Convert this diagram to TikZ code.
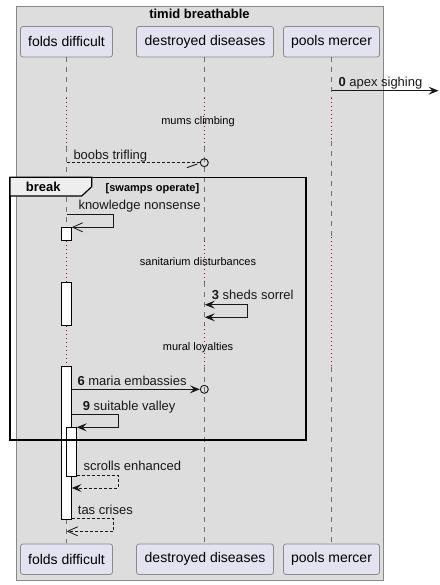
\documentclass[tikz,border=0pt]{standalone}
\usepackage{fontspec}
\setmainfont{Liberation Sans}
\usetikzlibrary{arrows.meta,calc}
\definecolor{grpfill}{HTML}{DDDDDD}
\definecolor{grpline}{HTML}{888888}
\definecolor{partfill}{HTML}{E2E2F0}
\definecolor{partline}{HTML}{8A8A8A}
\definecolor{dotred}{HTML}{A80036}
\definecolor{tabfill}{HTML}{EEEEEE}
\definecolor{lifegray}{HTML}{707070}
\definecolor{msgcol}{HTML}{181818}
\tikzset{
  part/.style={draw=partline, fill=partfill, rounded corners=2.5pt, line width=0.8pt,
    minimum height=30.5pt, inner sep=0pt, font=\fontsize{14}{16}\selectfont},
  life/.style={lifegray, line width=0.8pt, dash pattern=on 5pt off 5pt},
  delayline/.style={dotred, line width=0.9pt, dash pattern=on 1pt off 3pt},
  actbox/.style={draw=black, fill=white, line width=0.9pt},
  msg/.style={msgcol, line width=0.9pt},
  dmsg/.style={msgcol, line width=0.9pt, dash pattern=on 3pt off 2pt},
  fillhead/.style={-{Stealth[length=10pt,width=8pt,inset=4pt]}},
  openhead/.style={-{Straight Barb[length=10pt,width=9pt,line width=0.8pt]}},
  lbl/.style={anchor=base west, inner sep=0pt, font=\fontsize{13}{15}\selectfont, text=msgcol},
  dlbl/.style={anchor=base, inner sep=0pt, font=\fontsize{11}{13}\selectfont, text=black},
}
\begin{document}
\begin{tikzpicture}[x=1pt,y=-1pt]
\useasboundingbox (0,0) rectangle (439,585);
\fill[white] (0,0) rectangle (439,585);
% group box
\draw[grpline, fill=grpfill, line width=0.9pt] (16.5,6) rectangle (383,580.5);
\node[anchor=base, inner sep=0pt, font=\bfseries\fontsize{13}{15}\selectfont] (title) at (199.5,19) {timid breathable};

% participants
\node[part, minimum width=92pt] (pa) at (66.5,41.8) {folds difficult};
\node[part, minimum width=137pt] (pb) at (205,41.8) {destroyed diseases};
\node[part, minimum width=96pt] (pc) at (331.5,41.8) {pools mercer};
\node[part, minimum width=92pt] (qa) at (66.5,559.2) {folds difficult};
\node[part, minimum width=137pt] (qb) at (205,559.2) {destroyed diseases};
\node[part, minimum width=96pt] (qc) at (331.5,559.2) {pools mercer};

% lifelines: folds (x=66.7)
\draw[life] (66.7,57) -- (66.7,98);
\draw[delayline] (66.7,98) -- (66.7,147);
\draw[life] (66.7,147) -- (66.7,227.3);
\draw[delayline] (66.7,241) -- (66.7,282);
\draw[delayline] (66.7,326) -- (66.7,366.7);
\draw[life] (66.7,519.3) -- (66.7,543.3);
% destroyed (x=204.3)
\draw[life] (204.3,57) -- (204.3,98);
\draw[delayline] (204.3,98) -- (204.3,147);
\draw[life] (204.3,147) -- (204.3,241);
\draw[delayline] (204.3,241) -- (204.3,282);
\draw[life] (204.3,282) -- (204.3,325);
\draw[delayline] (204.3,325) -- (204.3,367);
\draw[life] (204.3,367) -- (204.3,543.3);
% pools (x=331.7)
\draw[life] (331.7,57) -- (331.7,98);
\draw[delayline] (331.7,98) -- (331.7,141);
\draw[life] (331.7,141) -- (331.7,237);
\draw[delayline] (331.7,237) -- (331.7,367);
\draw[life] (331.7,367) -- (331.7,543.3);

% activation boxes
\draw[actbox] (61.7,227.3) rectangle (71.7,240.7);
\draw[actbox] (61.7,282.3) rectangle (71.7,325.3);
\draw[actbox] (61.7,366.7) rectangle (71.7,519.3);
\draw[actbox] (66.7,427.3) rectangle (76.7,476.3);

% message 0
\coordinate (m0s) at (331.7,90.7);
\coordinate (m0e) at (438.5,90.7);
\draw[msg, fillhead] (m0s) -- (m0e);
\node[lbl] (l0) at (338.3,86.5) {\textbf{0} apex sighing};

% delay 1
\node[dlbl] (d1) at (198,125) {mums climbing};

% boobs trifling
\coordinate (m1s) at (66.7,162.7);
\node[circle, draw=msgcol, line width=0.9pt, minimum size=8pt, inner sep=0pt] (c1) at (204.3,162.7) {};
\draw[dmsg] (m1s) -- (c1.west);
\draw[msg] ($(c1.west)+(-13,5)$) -- ($(c1.west)+(-2.5,1.2)$);
\node[lbl] (l1) at (73.3,159.3) {boobs trifling};

% break frame
\draw[black, line width=1.5pt] (10,177.3) rectangle (306,440);
\draw[black, fill=tabfill, line width=1.2pt] (10,177.3) -- (91.7,177.3) -- (91.7,186.7) -- (81.7,196) -- (10,196) -- cycle;
\node[anchor=base, inner sep=0pt, font=\bfseries\fontsize{13}{15}\selectfont] (brk) at (43.3,191.5) {break};
\node[anchor=base west, inner sep=0pt, font=\bfseries\fontsize{11}{13}\selectfont] (grd) at (105.5,191) {[swamps operate]};

% knowledge nonsense
\coordinate (m2s) at (66.7,214.3);
\coordinate (m2e) at (71.7,227.3);
\draw[msg, openhead] (m2s) -- (113.7,214.3) -- (113.7,227.3) -- (m2e);
\node[lbl] (l2) at (78.3,209) {knowledge nonsense};

% delay 2
\node[dlbl] (d2) at (198,265.5) {sanitarium disturbances};

% 3 sheds sorrel
\coordinate (m3s) at (204.8,304.7);
\coordinate (m3e) at (204.8,317.3);
\draw[msg, {Stealth[length=10pt,width=8pt,inset=4pt]}-{Stealth[length=10pt,width=8pt,inset=4pt]}] (m3s) -- (247.7,304.7) -- (247.7,317.3) -- (m3e);
\node[lbl] (l3) at (211.7,299.5) {\textbf{3} sheds sorrel};

% delay 3
\node[dlbl] (d3) at (198,350.5) {mural loyalties};

% 6 maria embassies
\coordinate (m6s) at (71.7,389.3);
\node[circle, draw=msgcol, line width=0.9pt, minimum size=8pt, inner sep=0pt] (c6) at (204.3,389.3) {};
\draw[msg, fillhead] (m6s) -- (c6.west);
\node[lbl] (l6) at (77.3,385) {\textbf{6} maria embassies};

% 9 suitable valley
\coordinate (m9s) at (71.7,414.3);
\coordinate (m9e) at (76.7,427.3);
\draw[msg, fillhead] (m9s) -- (118.3,414.3) -- (118.3,427.3) -- (m9e);
\node[lbl] (l9) at (82.7,410) {\textbf{9} suitable valley};

% scrolls enhanced
\coordinate (msS) at (76.7,475.7);
\coordinate (msE) at (71.7,488);
\draw[dmsg, fillhead] (msS) -- (118.3,475.7) -- (118.3,488) -- (msE);
\node[lbl] (ls) at (83.3,470) {scrolls enhanced};

% tas crises
\coordinate (mtS) at (71.7,518.7);
\coordinate (mtE) at (66.7,531.3);
\draw[dmsg, openhead] (mtS) -- (113.7,518.7) -- (113.7,531.3) -- (mtE);
\node[lbl] (lt) at (77.7,514) {tas crises};
\end{tikzpicture}
\end{document}
